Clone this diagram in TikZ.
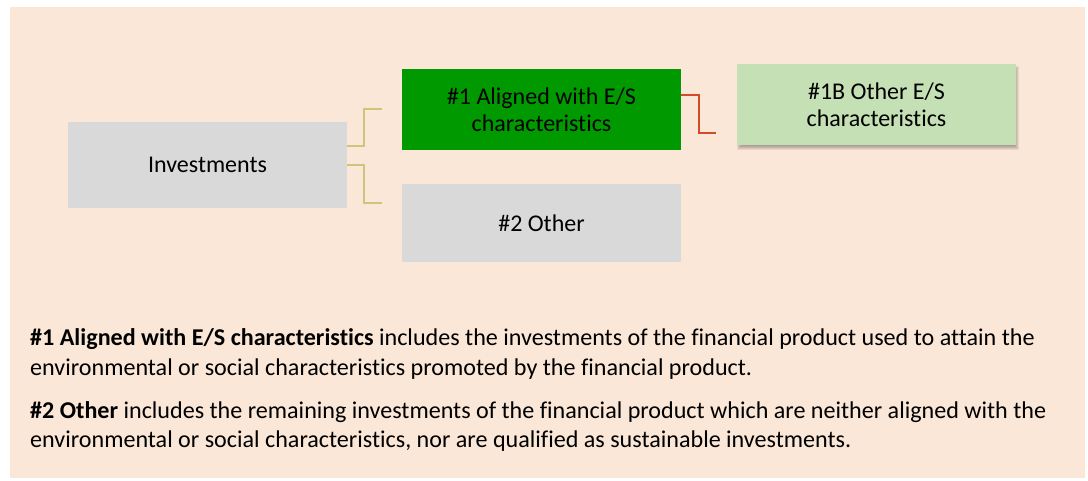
\documentclass[tikz,border=0pt]{standalone}
\usepackage{fontspec}
\setmainfont{Carlito}[Ligatures={NoCommon}]
\definecolor{panel}{HTML}{FAE7D7}
\definecolor{boxgray}{HTML}{D9D9D9}
\definecolor{dgreen}{HTML}{009A00}
\definecolor{lgreen}{HTML}{C5E0B4}
\definecolor{yline}{HTML}{D0C47A}
\definecolor{rline}{HTML}{D24B2B}
\tikzset{
  boxnode/.style={rectangle, inner sep=0pt, minimum width=279pt, align=center,
    text=black, font=\fontsize{24}{27}\selectfont},
  bodyline/.style={anchor=base west, inner sep=0pt, text=black,
    font=\fontsize{24.1}{29}\selectfont},
  yconn/.style={draw=yline, line width=1.4pt},
  rconn/.style={draw=rline, line width=1.6pt},
}
\begin{document}
\begin{tikzpicture}[x=1pt,y=-1pt]
\useasboundingbox (0,0) rectangle (1088,481);
\fill[white] (0,0) rectangle (1088,481);
\fill[panel] (10,7) rectangle (1085,478);

% soft shadow of the light green box
\foreach \d in {-2,-1,0,1,2}
  \fill[black, opacity=0.07] ({739-\d},{68-\d}) rectangle ({1017+\d},{148+\d});

\node[boxnode, fill=boxgray, minimum height=86pt] (inv) at (207.5,165) {Investments};
\node[boxnode, fill=dgreen, minimum height=81pt] (al) at (541.5,109.5) {\#1 Aligned with E/S\\characteristics};
\node[boxnode, fill=boxgray, minimum height=78pt] (oth) at (541.5,223) {\#2 Other};
\node[boxnode, fill=lgreen, minimum height=81pt] (ob) at (876.5,104.5) {\#1B Other E/S\\characteristics};

\coordinate (ya) at (382,109);
\coordinate (yb) at (382,203);
\coordinate (ra) at (716,133);
\draw[yconn] (inv.east |- 0,146) -| (364,109) -- (ya);
\draw[yconn] (inv.east |- 0,165) -| (364,203) -- (yb);
\draw[rconn] (al.east |- 0,95) -| (699,133) -- (ra);

\node[bodyline] (t1) at (30,345) {\textbf{\#1 Aligned with E/S characteristics} includes the investments of the financial product used to attain the};
\node[bodyline] (t2) at (30,375) {environmental or social characteristics promoted by the financial product.};
\node[bodyline] (t3) at (30,418) {\textbf{\#2 Other} includes the remaining investments of the financial product which are neither aligned with the};
\node[bodyline] (t4) at (30,447) {environmental or social characteristics, nor are qualified as sustainable investments.};
\end{tikzpicture}
\end{document}
